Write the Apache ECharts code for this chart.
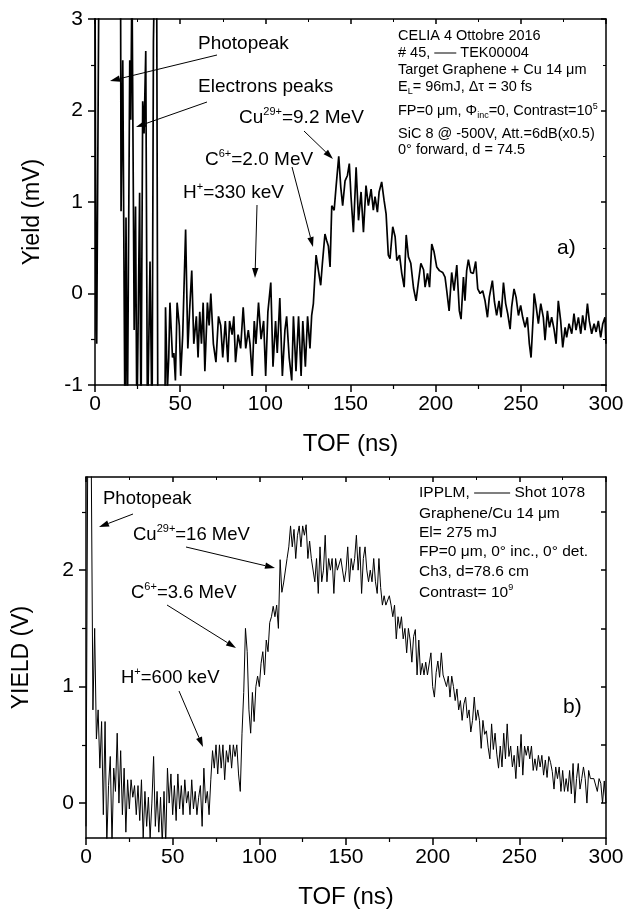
<!DOCTYPE html>
<html>
<head>
<meta charset="utf-8">
<title>TOF spectra</title>
<script src="https://cdn.jsdelivr.net/npm/echarts@6/dist/echarts.min.js"></script>
<style>
  html, body { margin: 0; padding: 0; background: #fff; }
  #chart { width: 638px; height: 910px; }
</style>
</head>
<body>
<div id="chart"></div>
<script>
// panel a) CELIA shot #45 : TOF (ns) and yield (mV)
const tofA = [
  0, 0.6, 1.0, 2.3, 15.0, 15.3, 16.3, 17.6, 18.2, 19.0, 20.4, 21.0, 21.7, 22.5, 23.0, 23.8, 24.6, 26.2,
  27.0, 28.0, 28.8, 29.8, 30.8, 32.3, 33.5, 34.3, 34.9, 36.2, 36.9, 41.0, 41.4, 42.5, 43.3, 44.0, 45.5,
  46.3, 47.2, 48.2, 49.5, 50.3, 51.5, 53.2, 54.5, 55.5, 56.8, 58.0, 59.5, 60.5, 61.5, 62.5, 63.5, 64.5,
  66.0, 67.0, 68.0, 69.5, 71.0, 72.5, 73.8, 75.0, 76.5, 78.0, 79.0, 80.5, 81.5, 82.5, 84.0, 85.5, 87.0,
  88.5, 90.0, 91.0, 92.3, 93.5, 94.5, 96.0, 97.5, 99.0, 100.2, 101.5, 103.2, 104.5, 106.0, 107.0, 108.5,
  110.0, 111.5, 112.5, 114.0, 115.5, 116.5, 118.0, 119.5, 121.0, 122.0, 123.5, 124.8, 126.2, 127.2,
  128.2, 129.8, 130.8, 132.5, 133.5, 135.0, 136.0, 137.0, 138.0, 139.0, 140.4, 141.5, 143.1, 144.3,
  145.4, 146.8, 148.2, 149.3, 150.3, 151.7, 153.3, 154.7, 156.2, 157.6, 159.1, 160.5, 162.1, 163.4,
  164.4, 165.8, 166.8, 168.3, 169.7, 170.9, 172.2, 173.2, 174.8, 176.2, 177.2, 178.8, 180.1, 181.5,
  182.7, 184.0, 185.4, 187.0, 188.5, 189.9, 191.3, 192.9, 193.8, 195.2, 196.4, 197.7, 199.0, 200.6,
  202.2, 204.1, 205.5, 206.5, 207.9, 209.4, 210.8, 212.4, 213.9, 214.9, 216.3, 217.2, 218.2, 219.2,
  220.6, 222.1, 223.5, 224.7, 226.1, 227.6, 229.0, 230.4, 231.5, 233.3, 234.5, 235.8, 237.2, 238.4,
  239.8, 241.1, 242.3, 243.7, 244.6, 246.0, 247.2, 248.6, 249.9, 251.1, 252.5, 253.8, 255.0, 256.0,
  257.4, 257.8, 258.9, 260.3, 261.7, 263.2, 264.2, 265.6, 266.8, 268.1, 269.5, 270.7, 272.0, 273.4,
  274.6, 276.0, 276.9, 278.3, 279.9, 281.2, 282.4, 283.8, 285.2, 286.3, 287.7, 289.1, 290.2, 291.6,
  293.0, 294.2, 295.5, 296.9, 298.1, 299.4, 300.0
];
const yieldA = [
  3.5, -0.4, -0.55, 3.5, 3.5, 0.9, 2.55, -1.5, 0.83, -1.5, 2.55, 1.9, 3.5, 3.5, -0.4, 0.95, -1.5, 1.1,
  -1.5, 2.1, 1.75, 2.65, -1.5, 0.35, -1.5, 2.75, 3.5, 3.5, -1.5, -1.5, -0.15, -1.05, -0.7, -0.1, -0.7,
  -0.65, -0.95, -0.1, -0.35, -0.9, -0.45, 0.7, -0.6, -0.2, 0.25, -0.55, -0.25, -0.7, -0.2, -0.55, -0.1, -0.85,
  -0.1, -0.35, 0.0, -0.55, -0.75, -0.25, -0.35, -0.7, -0.3, -0.75, -0.3, -0.45, -0.25, -0.75, -0.45, -0.6, -0.15,
  -0.6, -0.4, -0.55, -0.9, -0.3, -0.55, -0.1, -0.5, -0.3, -0.9, -0.2, 0.12, -0.8, -0.3, -0.65, -0.05,
  -0.9, -0.4, -0.25, -0.7, -0.95, -0.25, -0.85, -0.25, -0.9, -0.3, -0.8, -0.25, -0.6, -0.24,
  -0.11, 0.42, 0.44, 0.09, 0.33, 0.65, 0.58, 0.52, 0.29, 0.96, 0.91, 1.16, 1.50, 1.16,
  0.96, 1.23, 1.29, 1.42, 1.06, 0.67, 1.38, 0.80, 1.11, 0.67, 1.18, 0.96, 1.14, 0.91,
  1.06, 0.89, 1.11, 1.22, 1.02, 0.87, 0.42, 0.38, 0.73, 0.62, 0.36, 0.42, 0.22, 0.07,
  0.64, 0.40, 0.33, 0.06, -0.08, 0.13, 0.33, 0.26, 0.07, 0.22, 0.07, 0.54, 0.46, 0.29,
  0.25, 0.23, 0.18, 0.03, -0.19, 0.23, 0.03, 0.31, -0.19, -0.28, 0.18, -0.08, 0.25, 0.37,
  0.23, 0.22, 0.35, 0.05, 0.0, 0.03, -0.08, -0.26, -0.04, 0.14, -0.09, -0.24, -0.08, -0.26,
  0.12, -0.11, -0.22, -0.39, -0.15, 0.05, -0.04, -0.24, -0.13, -0.26, -0.37, -0.26, -0.55, -0.70,
  -0.2, 0.0, -0.13, -0.33, -0.11, -0.26, -0.51, -0.19, -0.37, -0.26, -0.39, -0.55, -0.08, -0.30,
  -0.59, -0.37, -0.48, -0.33, -0.44, -0.22, -0.40, -0.26, -0.44, -0.24, -0.40, -0.11, -0.30, -0.44,
  -0.33, -0.42, -0.30, -0.48, -0.33, -0.26, -0.55
];

// panel b) IPPLM shot 1078 : one sample per ns, yield (V)
const stepB = 1;
const yieldB = [
  -0.2, 3.0, 3.0, 3.0, 0.8, 1.5, 0.55, 0.8, 0.3, 0.7,
  -0.1, 0.7, -0.35, 0.15, 0.4, -0.35, 0.3, 0.1, 0.6, 0.0,
  0.45, -0.1, 0.3, -0.25, 0.2, -0.05, 0.2, 0.05, 0.15, -0.1,
  0.15, -0.15, 0.2, -0.3, 0.1, -0.2, 0.05, -0.3, 0.0, 0.4,
  -0.2, 0.1, -0.25, 0.05, -0.35, 0.1, -0.35, 0.3, 0.0, 0.25,
  -0.1, 0.15, -0.15, 0.25, -0.05, 0.15, -0.1, 0.2, 0.0, 0.1,
  -0.1, 0.2, -0.05, 0.1, -0.1, 0.05, 0.15, -0.2, 0.3, 0.0,
  0.1, -0.1, 0.2, 0.45, 0.3, 0.5, 0.25, 0.5, 0.3, 0.5,
  0.2, 0.45, 0.35, 0.5, 0.3, 0.5, 0.4, 0.5, 0.25, 0.1,
  0.6, 0.95, 1.5, 1.3, 0.8, 0.6, 0.95, 0.7, 1.0, 1.09,
  1.0, 1.2, 1.3, 1.1, 1.4, 1.3, 1.55, 1.6, 1.69, 1.6,
  1.7, 1.5, 2.09, 1.81, 1.89, 1.9, 2.1, 2.2, 2.38, 2.2,
  2.35, 2.1, 2.3, 2.38, 2.2, 2.38, 2.3, 2.39, 2.1, 2.25,
  2.1, 2.1, 1.9, 2.1, 1.8, 2.2, 1.9, 2.0, 2.3, 1.9,
  2.1, 2.0, 2.1, 1.8, 2.1, 2.0, 2.0, 2.1, 2.1, 1.9,
  2.0, 2.2, 1.9, 2.1, 2.0, 2.1, 2.3, 2.0, 2.2, 1.8,
  2.1, 2.2, 2.0, 1.9, 2.0, 1.9, 2.1, 1.9, 1.8, 2.1,
  1.85, 1.7, 1.78, 1.7, 1.7, 1.78, 1.7, 1.6, 1.7, 1.41,
  1.6, 1.5, 1.6, 1.41, 1.5, 1.29, 1.5, 1.4, 1.21, 1.43,
  1.49, 1.1, 1.4, 1.1, 1.2, 1.1, 1.21, 1.1, 1.1, 1.29,
  1.0, 0.91, 1.12, 1.22, 1.08, 1.29, 1.1, 1.09, 1.0, 1.09,
  0.91, 1.09, 1.0, 0.88, 0.98, 0.80, 0.88, 0.71, 0.85, 0.91,
  0.73, 0.80, 0.61, 0.71, 0.91, 0.71, 0.80, 0.71, 0.47, 0.71,
  0.59, 0.62, 0.48, 0.38, 0.68, 0.46, 0.60, 0.42, 0.30, 0.49,
  0.31, 0.60, 0.38, 0.68, 0.40, 0.49, 0.31, 0.41, 0.21, 0.49,
  0.31, 0.59, 0.24, 0.49, 0.41, 0.49, 0.38, 0.49, 0.28, 0.38,
  0.28, 0.41, 0.31, 0.41, 0.24, 0.37, 0.22, 0.40, 0.35, 0.27,
  0.12, 0.31, 0.21, 0.31, 0.10, 0.28, 0.10, 0.21, 0.10, 0.28,
  0.08, 0.34, 0.0, 0.21, 0.34, 0.12, 0.21, 0.31, 0.21, 0.0,
  0.28, 0.21, 0.21, 0.21, 0.21, 0.10, 0.21, 0.17, 0.0, 0.19,
  0.0
];

const yLabelsB = [0, 1, 2];
const yMinorB = [0.5, 1.5, 2.5];

const FONT = '"Liberation Sans", Arial, Helvetica, sans-serif';
const black = { color: '#000', width: 1.5 };

function xAxes(gridIndex) {
  const base = { type: 'value', gridIndex, min: 0, max: 300, interval: 50, splitLine: { show: false } };
  return [
    Object.assign({}, base, {
      position: 'bottom',
      axisLine: { show: true, onZero: false, lineStyle: black },
      axisTick: { show: true, inside: false, length: 7, lineStyle: black },
      minorTick: { show: true, splitNumber: 2, length: 4, lineStyle: { color: '#000', width: 1.2 } },
      axisLabel: { color: '#000', fontFamily: FONT, fontSize: 21, margin: 9 },
      name: 'TOF (ns)', nameLocation: 'middle', nameGap: 47,
      nameTextStyle: { color: '#000', fontFamily: FONT, fontSize: 24 }
    }),
    Object.assign({}, base, {
      position: 'top',
      axisLine: { show: true, onZero: false, lineStyle: black },
      axisTick: { show: true, inside: true, length: 5, lineStyle: black },
      minorTick: { show: true, splitNumber: 2, length: 3, lineStyle: { color: '#000', width: 1 } },
      axisLabel: { show: false }
    })
  ];
}

const leftLabel = { color: '#000', fontFamily: FONT, fontSize: 21, margin: 12 };
const yNameStyle = { color: '#000', fontFamily: FONT, fontSize: 23 };

const yAxes = [
  // a) left
  {
    type: 'value', gridIndex: 0, position: 'left', min: -1, max: 3, interval: 1,
    axisLine: { show: true, onZero: false, lineStyle: black },
    axisTick: { show: true, length: 7, lineStyle: black },
    minorTick: { show: true, splitNumber: 2, length: 4, lineStyle: { color: '#000', width: 1.2 } },
    axisLabel: leftLabel, splitLine: { show: false },
    name: 'Yield (mV)', nameLocation: 'middle', nameGap: 51,
    nameTextStyle: Object.assign({ padding: [0, 0, 0, -20] }, yNameStyle)
  },
  // a) right mirror
  {
    type: 'value', gridIndex: 0, position: 'right', min: -1, max: 3, interval: 1,
    axisLine: { show: true, onZero: false, lineStyle: black },
    axisTick: { show: true, inside: true, length: 5, lineStyle: black },
    minorTick: { show: true, splitNumber: 2, length: 3, lineStyle: { color: '#000', width: 1 } },
    axisLabel: { show: false }, splitLine: { show: false }
  },
  // b) left
  {
    type: 'value', gridIndex: 1, position: 'left', min: -0.3, max: 2.8,
    axisLine: { show: true, onZero: false, lineStyle: black },
    axisTick: { show: true, length: 7, lineStyle: black, customValues: yLabelsB },
    axisLabel: Object.assign({ customValues: yLabelsB }, leftLabel), splitLine: { show: false },
    name: 'YIELD (V)', nameLocation: 'middle', nameGap: 53, nameTextStyle: yNameStyle
  },
  // b) right mirror
  {
    type: 'value', gridIndex: 1, position: 'right', min: -0.3, max: 2.8,
    axisLine: { show: true, onZero: false, lineStyle: black },
    axisTick: { show: true, inside: true, length: 5, lineStyle: black, customValues: yLabelsB.concat(yMinorB) },
    axisLabel: { show: false }, splitLine: { show: false }
  },
  // b) left minor ticks
  {
    type: 'value', gridIndex: 1, position: 'left', min: -0.3, max: 2.8,
    axisLine: { show: false },
    axisTick: { show: true, length: 4, lineStyle: { color: '#000', width: 1.2 }, customValues: yMinorB },
    axisLabel: { show: false }, splitLine: { show: false }
  }
];

function arrow(x1, y1, x2, y2) {
  const a = Math.atan2(y2 - y1, x2 - x1);
  const L = 10, W = 3.2;
  const bx = x2 - L * Math.cos(a), by = y2 - L * Math.sin(a);
  const px = -Math.sin(a) * W, py = Math.cos(a) * W;
  return [
    { type: 'line', shape: { x1: x1, y1: y1, x2: bx, y2: by }, style: { stroke: '#000', lineWidth: 1 } },
    { type: 'polygon', shape: { points: [[x2, y2], [bx + px, by + py], [bx - px, by - py]] }, style: { fill: '#000' } }
  ];
}

function label(x, y, text, size) {
  return {
    type: 'text', x: x, y: y,
    style: {
      text: text, fill: '#000', fontFamily: FONT, fontSize: size, lineHeight: Math.round(size * 1.25),
      align: 'left', verticalAlign: 'middle',
      rich: {
        sup: { fontSize: Math.round(size * 0.6), fontFamily: FONT, verticalAlign: 'top', lineHeight: Math.round(size * 0.6) },
        sub: { fontSize: Math.round(size * 0.6), fontFamily: FONT, verticalAlign: 'bottom', lineHeight: Math.round(size * 0.6) },
        lnA: { width: 22, height: 1, backgroundColor: '#000' },
        lnB: { width: 36, height: 1, backgroundColor: '#000' }
      }
    }
  };
}

const graphics = [].concat(
  // panel a annotations
  label(198, 44, 'Photopeak', 19), arrow(217, 55, 110, 81),
  label(198, 87, 'Electrons peaks', 19), arrow(207, 102, 136, 127),
  label(239, 118, 'Cu{sup|29+}=9.2 MeV', 19), arrow(304, 131, 333, 159),
  label(205, 160, 'C{sup|6+}=2.0 MeV', 19), arrow(292, 167, 313, 247),
  label(183, 193, 'H{sup|+}=330 keV', 19), arrow(257, 205, 255, 278),
  label(557, 248, 'a)', 21),
  label(398, 36, 'CELIA 4 Ottobre 2016', 14.5),
  label(398, 53, '# 45, {lnA| } TEK00004', 14.5),
  label(398, 70, 'Target Graphene + Cu 14 μm', 14.5),
  label(398, 87, 'E{sub|L}= 96mJ, Δτ = 30 fs', 14.5),
  label(398, 111, 'FP=0 μm, Φ{sub|inc}=0, Contrast=10{sup|5}', 14.5),
  label(398, 134, 'SiC 8 @ -500V, Att.=6dB(x0.5)', 14.5),
  label(398, 150, '0° forward, d = 74.5', 14.5),
  // panel b annotations
  label(103, 499, 'Photopeak', 18.5), arrow(133, 514, 99, 527),
  label(133, 535, 'Cu{sup|29+}=16 MeV', 18.5), arrow(186, 547, 275, 568),
  label(131, 593, 'C{sup|6+}=3.6 MeV', 18.5), arrow(167, 605, 236, 648),
  label(121, 678, 'H{sup|+}=600 keV', 18.5), arrow(179, 691, 203, 747),
  label(563, 707, 'b)', 21),
  label(419, 493, 'IPPLM, {lnB| } Shot 1078', 15.5),
  label(419, 514, 'Graphene/Cu 14 μm', 15.5),
  label(419, 533, 'El= 275 mJ', 15.5),
  label(419, 552, 'FP=0 μm, 0° inc., 0° det.', 15.5),
  label(419, 572, 'Ch3, d=78.6 cm', 15.5),
  label(419, 593, 'Contrast= 10{sup|9}', 15.5)
);

const chart = echarts.init(document.getElementById('chart'));
chart.setOption({
  animation: false,
  backgroundColor: '#fff',
  grid: [
    { left: 95, top: 19, width: 511, height: 366 },
    { left: 86, top: 477, width: 520, height: 366 }
  ],
  xAxis: xAxes(0).concat(xAxes(1)),
  yAxis: yAxes,
  series: [
    {
      type: 'line', xAxisIndex: 0, yAxisIndex: 0, showSymbol: false, clip: true,
      lineStyle: { color: '#000', width: 1.7 },
      data: tofA.map((t, i) => [t, yieldA[i]])
    },
    {
      type: 'line', xAxisIndex: 2, yAxisIndex: 2, showSymbol: false, clip: true,
      lineStyle: { color: '#000', width: 1 },
      data: yieldB.map((v, i) => [i * stepB, v])
    }
  ],
  graphic: graphics
});
</script>
</body>
</html>
